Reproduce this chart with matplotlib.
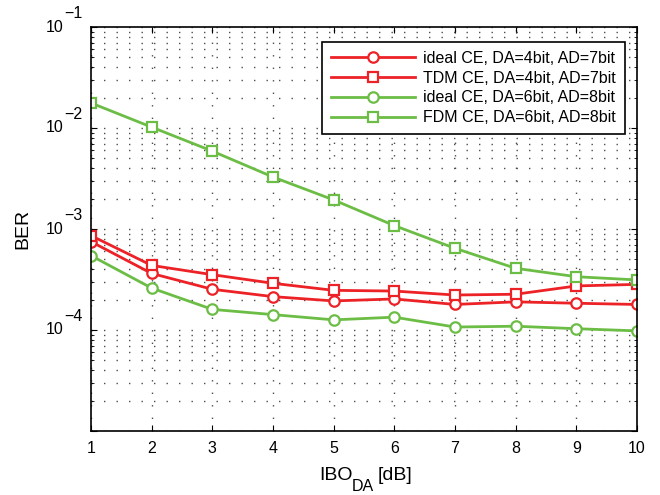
import matplotlib
matplotlib.use('Agg')
import matplotlib.pyplot as plt
import numpy as np
from matplotlib.ticker import LogLocator, FixedLocator, NullFormatter

plt.rcParams['font.family'] = ['Liberation Sans', 'DejaVu Sans']

ibo = [1, 2, 3, 4, 5, 6, 7, 8, 9, 10]
ideal_4_7 = [7.5e-4, 3.63e-4, 2.53e-4, 2.14e-4, 1.94e-4, 2.03e-4, 1.79e-4, 1.90e-4, 1.84e-4, 1.79e-4]
tdm_4_7 = [8.6e-4, 4.36e-4, 3.53e-4, 2.90e-4, 2.47e-4, 2.43e-4, 2.22e-4, 2.26e-4, 2.73e-4, 2.83e-4]
ideal_6_8 = [5.45e-4, 2.60e-4, 1.60e-4, 1.42e-4, 1.26e-4, 1.34e-4, 1.07e-4, 1.09e-4, 1.03e-4, 9.8e-5]
fdm_6_8 = [1.77e-2, 1.02e-2, 5.9e-3, 3.27e-3, 1.94e-3, 1.08e-3, 6.44e-4, 4.08e-4, 3.37e-4, 3.13e-4]
ytick_vals = [1e-5, 1e-4, 1e-3, 1e-2, 1e-1]
ytick_exps = ['', '\u22124', '\u22123', '\u22122', '\u22121']

red = '#ec2227'
green = '#6cbd45'

W, H = 660, 495
fig = plt.figure(figsize=(W / 100, H / 100), dpi=100)
ax = fig.add_axes([91 / W, 1 - 431 / H, (637 - 91) / W, (431 - 27) / H])

kw = dict(lw=2, ms=7.5, mew=1.6, mfc='white')
ax.semilogy(ibo, ideal_4_7, '-o', color=red, label='ideal CE, DA=4bit, AD=7bit', **kw)
ax.semilogy(ibo, tdm_4_7, '-s', color=red, label='TDM CE, DA=4bit, AD=7bit', **kw)
ax.semilogy(ibo, ideal_6_8, '-o', color=green, label='ideal CE, DA=6bit, AD=8bit', **kw)
ax.semilogy(ibo, fdm_6_8, '-s', color=green, label='FDM CE, DA=6bit, AD=8bit', **kw)

ax.set_xlim(1, 10)
ax.set_ylim(1e-5, 1e-1)
ax.set_xticks(ibo)
ax.yaxis.set_major_locator(FixedLocator(ytick_vals))
ax.set_yticklabels(['' if e == '' else '10' for e in ytick_exps])
ax.yaxis.set_minor_locator(LogLocator(base=10, subs=np.arange(2, 10)))
ax.yaxis.set_minor_formatter(NullFormatter())

# MATLAB-style exponents next to the "10"
for v, e in zip(ytick_vals, ytick_exps):
    if e:
        ax.annotate(e, xy=(0, v), xycoords=('axes fraction', 'data'),
                    xytext=(-19, 9.5), textcoords='offset points',
                    ha='left', va='center', fontsize=11.5, annotation_clip=False)

ax.grid(True, which='major', color='#4d4d4d', ls=(0, (1, 8)), lw=1.0)
ax.grid(True, which='minor', axis='y', color='#4d4d4d', ls=(0, (1, 8)), lw=1.0)
ax.tick_params(which='both', direction='in', top=True, right=True, labelsize=11.5)
ax.tick_params(axis='y', which='major', pad=20)
ax.tick_params(axis='x', which='major', pad=7)
ax.tick_params(which='major', length=4)
ax.tick_params(which='minor', length=2)
for lab in ax.get_yticklabels():
    lab.set_verticalalignment('center')
for s in ax.spines.values():
    s.set_linewidth(1.2)
    s.set_color('black')

# x label with a large subscript, as in the original
fig.text(319 / W, 1 - 480 / H, 'IBO', fontsize=14, ha='left', va='baseline')
fig.text(352 / W, 1 - 491 / H, 'DA', fontsize=11.5, ha='left', va='baseline')
fig.text(378 / W, 1 - 480 / H, '[dB]', fontsize=14, ha='left', va='baseline')
ax.set_ylabel('BER', fontsize=14, labelpad=10)

leg = ax.legend(loc='upper right', bbox_to_anchor=((625 - 91) / 546, 1 - 15 / 404),
                borderaxespad=0, fontsize=11.5, fancybox=False, framealpha=1,
                edgecolor='black', handlelength=5.3, borderpad=0.55,
                labelspacing=0.3, handletextpad=0.5)
leg.get_frame().set_linewidth(1.2)

fig.savefig('out.png', dpi=100)
